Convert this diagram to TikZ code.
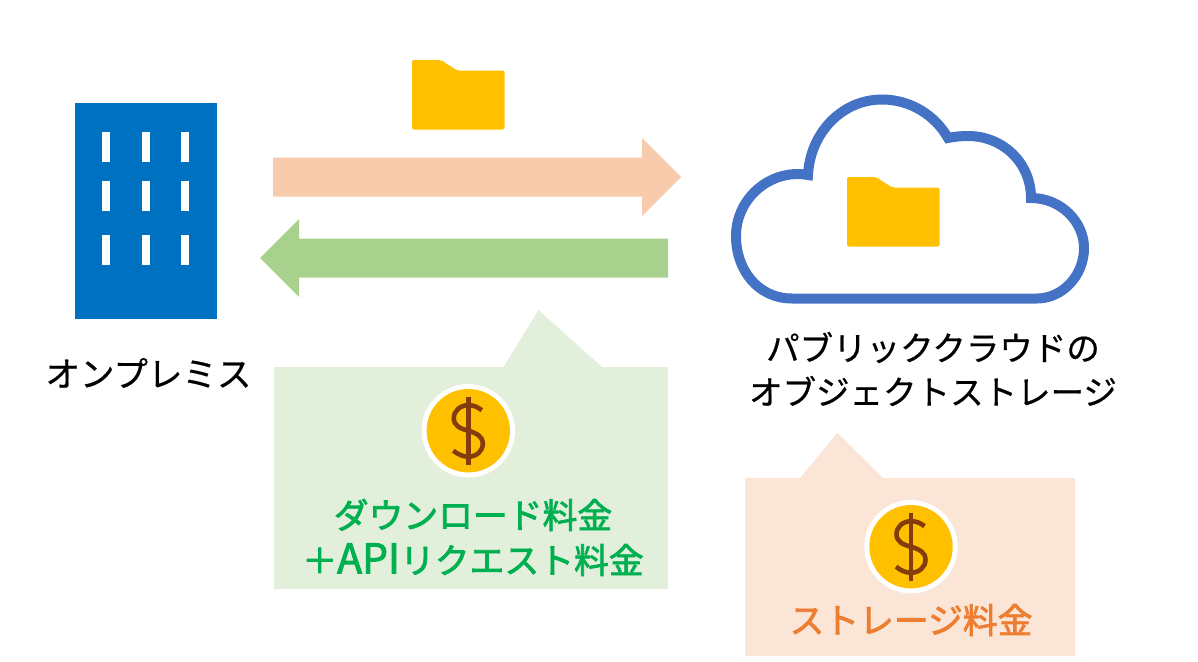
\documentclass[tikz,border=0pt]{standalone}
\usepackage{fontspec}
\setmainfont{Noto Sans CJK JP}
\newfontfamily\labelfont[FakeBold=0.6]{Noto Sans CJK JP}
\newfontfamily\feefont[FakeBold=2.2]{Noto Sans CJK JP}
\usepackage{tikz}
\definecolor{bldgblue}{HTML}{0070C0}
\definecolor{cloudblue}{HTML}{4472C4}
\definecolor{amber}{HTML}{FFC000}
\definecolor{upflow}{HTML}{F8CBAD}
\definecolor{downflow}{HTML}{A9D18E}
\definecolor{greenbox}{HTML}{E2EFDA}
\definecolor{orangebox}{HTML}{FBE5D6}
\definecolor{dollarbrown}{HTML}{843C0C}
\definecolor{feegreen}{HTML}{00B050}
\definecolor{feeorange}{HTML}{ED7D31}
\tikzset{
    label34/.style={inner sep=0pt, align=center, font=\fontsize{33.5}{44}\labelfont},
    fee/.style={inner sep=0pt, align=center, font=\fontsize{34.8}{45}\feefont}
}
\newcommand{\drawfolder}[2]{
    \fill[amber, rounded corners=2pt, shift={(#1,#2)}] (0,0) -- (29,0) -- (45,10.5) -- (92.5,10.5) -- (92.5,69.5) -- (0,69.5) -- cycle;
}
\newcommand{\drawcoin}[2]{
    \begin{scope}[shift={(#1,#2)}]
        \fill[white] (0,0) circle (46.7);
        \fill[amber] (0,0) circle (41.7);
        \draw[dollarbrown, line width=4.6pt] (0,-34) -- (0,34);
        \draw[dollarbrown, line width=4.6pt] (13.5,-20.5) .. controls (9,-24) and (5,-25.5) .. (0,-25.5)
            .. controls (-8,-25.5) and (-14.5,-20) .. (-14.5,-12.5) .. controls (-14.5,-5) and (-8,-2) .. (0,0)
            .. controls (8,2.5) and (14.5,5.5) .. (14.5,13) .. controls (14.5,20.5) and (8,26) .. (0,26)
            .. controls (-5,26) and (-10,24) .. (-15,20);
    \end{scope}
}

\begin{document}
\begin{tikzpicture}[x=1pt, y=-1pt]
    \useasboundingbox (0,0) rectangle (1198,661);
    % building
    \fill[bldgblue] (75,103) rectangle (217,319);
    \foreach \wx in {102,142,181}
        \foreach \wy in {132,181,235}
            \fill[white] (\wx,\wy) rectangle ++(8,30);
    \node (onprem) [label34, font=\fontsize{34.5}{44}\labelfont] at (148.5,373) {オンプレミス};
    % transfer arrows
    \drawfolder{412}{60}
    \fill[upflow] (273,157.5) -- (642,157.5) -- (642,138) -- (681,177) -- (642,216) -- (642,196.5) -- (273,196.5) -- cycle;
    \fill[downflow] (668,238.5) -- (299,238.5) -- (299,219) -- (260,258) -- (299,297) -- (299,277.5) -- (668,277.5) -- cycle;
    % cloud
    \draw[cloudblue, line width=10pt, miter limit=3] (792,298.5) .. controls (758,298.5) and (736,270) .. (736,236)
        .. controls (736,202) and (764,174) .. (798,174) .. controls (801,174) and (805,174.5) .. (808,175)
        .. controls (810,133) and (842,99.5) .. (882,99.5) .. controls (910,99.5) and (935,115) .. (948,138)
        .. controls (955,136.5) and (962,136) .. (968,136) .. controls (1003,136) and (1031,163) .. (1031,198)
        .. controls (1061,198) and (1084,222) .. (1084,248) .. controls (1084,276) and (1062,298.5) .. (1037,298.5)
        -- cycle;
    \drawfolder{847}{177}
    \node (cloudlabel) [label34] at (933,369) {パブリッククラウドの\\オブジェクトストレージ};
    % fee boxes
    \fill[greenbox] (274,367) -- (503.5,367) -- (538.5,310) -- (602,367) -- (668,367) -- (668,589) -- (274,589) -- cycle;
    \drawcoin{468.3}{430.7}
    \node (downfee) [fee, text=feegreen] at (473,537.5) {ダウンロード料金\\＋{\fontsize{41}{45}\feefont API}リクエスト料金};
    \fill[orangebox] (745,478) -- (800,478) -- (837.5,433) -- (883,478) -- (1075,478) -- (1075,656) -- (745,656) -- cycle;
    \drawcoin{911}{546.7}
    \node (storagefee) [fee, text=feeorange] at (911,620) {ストレージ料金};
\end{tikzpicture}
\end{document}
